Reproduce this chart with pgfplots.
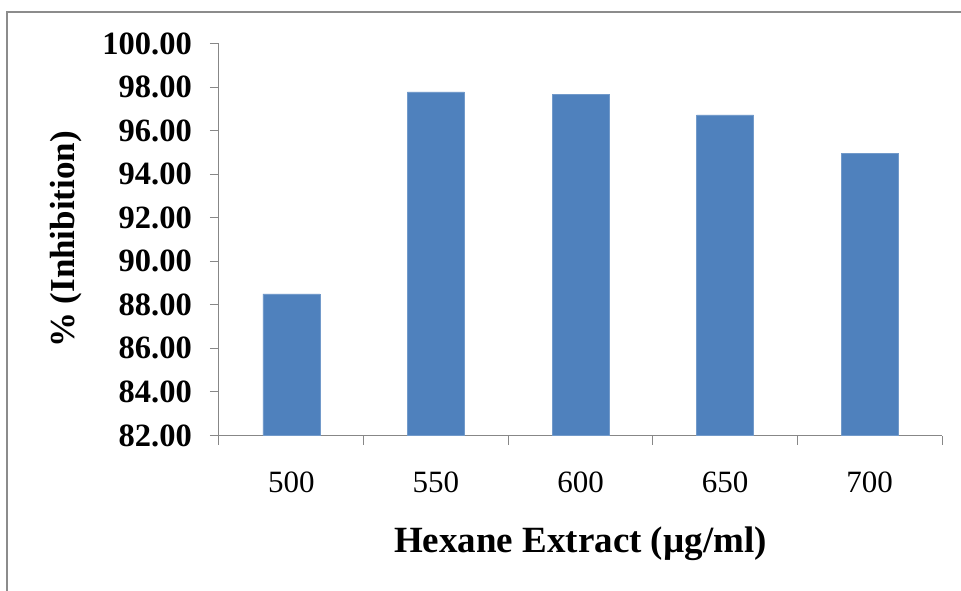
\documentclass[border=0pt]{standalone}
\usepackage{pgfplots}
\pgfplotsset{compat=1.18}
\usepackage{fontspec}
\setmainfont{Liberation Serif}
\definecolor{barblue}{HTML}{4F81BD}
\definecolor{axgray}{HTML}{878787}
\definecolor{framegray}{HTML}{8C8C8C}
\begin{document}
\begin{tikzpicture}
\useasboundingbox (-219pt,-154.5pt) rectangle (742pt,435.5pt);
\draw[framegray, line width=1.6pt] (-212pt,-200pt) -- (-212pt,423.5pt) -- (800pt,423.5pt);
\begin{axis}[
  at={(0,0)}, anchor=south west,
  scale only axis,
  width=723pt, height=392pt,
  ybar, bar width=0.394, bar shift=0pt,
  xmin=-0.5, xmax=4.5,
  ymin=82, ymax=100,
  ytick={82,84,...,100},
  xtick={0,1,2,3,4},
  xticklabels={500,550,600,650,700},
  minor xtick={-0.5,0.5,1.5,2.5,3.5,4.5},
  axis x line*=bottom, axis y line*=left,
  axis line style={axgray, line width=1pt},
  tick align=outside,
  major tick length=9pt, minor tick length=9pt,
  tick style={axgray, line width=1pt},
  major x tick style={draw=none},
  minor x tick style={draw=axgray, line width=1pt},
  /pgf/number format/.cd, fixed, fixed zerofill, precision=2, assume math mode=true,
  /pgfplots/.cd,
  yticklabel style={font=\fontsize{32.5}{32.5}\selectfont\bfseries, anchor=east, inner sep=0pt, xshift=-18pt},
  xticklabel style={font=\fontsize{31}{31}\selectfont, anchor=base, inner sep=0pt, yshift=-48pt},
  xlabel={Hexane Extract (µg/ml)},
  ylabel={\% (Inhibition)},
  xlabel style={font=\fontsize{37}{37}\selectfont\bfseries, at={(axis description cs:0.5,-0.2997)}, anchor=base},
  ylabel style={font=\fontsize{35}{35}\selectfont\bfseries, at={(axis description cs:-0.2116,0.5)}, anchor=center},
]
\addplot[fill=barblue, draw=barblue!80!white] coordinates {(0,88.50) (1,97.78) (2,97.65) (3,96.72) (4,94.97)};
\end{axis}
\end{tikzpicture}
\end{document}
